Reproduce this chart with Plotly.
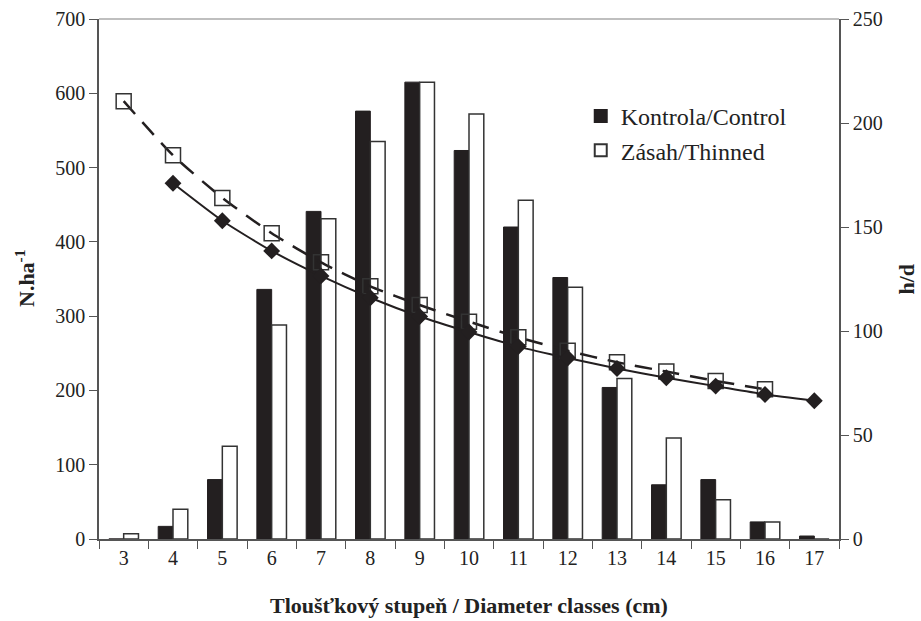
import plotly.graph_objects as go

classes = ["3", "4", "5", "6", "7", "8", "9", "10", "11", "12", "13", "14", "15", "16", "17"]
control_n = [0, 17, 80, 336, 441, 576, 615, 523, 420, 352, 204, 73, 80, 23, 4]
thinned_n = [7, 40, 125, 288, 431, 535, 615, 572, 456, 339, 216, 136, 53, 23, 0]

hd_classes_control = ["4", "5", "6", "7", "8", "9", "10", "11", "12", "13", "14", "15", "16", "17"]
hd_control = [171, 153, 138.5, 126.5, 116, 107, 99.5, 92.5, 87, 82, 77.5, 73.5, 69.5, 66.5]
hd_classes_thinned = ["3", "4", "5", "6", "7", "8", "9", "10", "11", "12", "13", "14", "15", "16"]
hd_thinned = [210.5, 184.5, 164, 147, 133, 121.5, 112.5, 104.5, 97, 90.5, 85, 80.5, 76, 72]

FONT = "Liberation Serif, Times New Roman, serif"
DARK = "#231f20"
AX = "#555555"

fig = go.Figure()
fig.add_trace(go.Bar(x=classes, y=control_n, name="Kontrola/Control", legendgroup="a",
                     marker=dict(color=DARK, line=dict(color=DARK, width=1)), yaxis="y"))
fig.add_trace(go.Bar(x=classes, y=thinned_n, name="Zásah/Thinned", legendgroup="b",
                     marker=dict(color="white", line=dict(color="#333333", width=1.5)), yaxis="y"))
fig.add_trace(go.Scatter(x=hd_classes_thinned, y=hd_thinned, yaxis="y2", mode="lines+markers",
                         line=dict(color=DARK, width=2.5, dash="17px,11px", shape="spline", smoothing=0.6),
                         marker=dict(symbol="square-open", size=15, color="#333333", line=dict(width=1.5)),
                         showlegend=False))
fig.add_trace(go.Scatter(x=hd_classes_control, y=hd_control, yaxis="y2", mode="lines+markers",
                         line=dict(color=DARK, width=2, shape="spline", smoothing=0.6),
                         marker=dict(symbol="diamond", size=13, color=DARK),
                         showlegend=False))

fig.update_layout(
    width=921, height=621,
    margin=dict(l=99, r=82, t=19, b=82, autoexpand=False),
    paper_bgcolor="white", plot_bgcolor="white",
    barmode="group", bargap=0.4, bargroupgap=0.0,
    font=dict(family=FONT, size=20, color="#222222"),
    xaxis=dict(type="category", range=[-0.5, 14.5], showline=True, linecolor=AX, linewidth=1.5,
               automargin=False, ticks="outside", ticklen=8, tickcolor=AX, tickson="boundaries",
               showgrid=False, zeroline=False),
    yaxis=dict(range=[0, 700], dtick=100, showline=True, linecolor=AX, linewidth=1.5, automargin=False,
               ticks="outside", ticklen=8, tickcolor=AX, showgrid=False, zeroline=False),
    yaxis2=dict(range=[0, 250], dtick=50, overlaying="y", side="right", showline=True, automargin=False,
                linecolor=AX, linewidth=1.5, ticks="outside", ticklen=8, tickcolor=AX,
                showgrid=False, zeroline=False),
    legend=dict(x=0.651, y=0.856, xanchor="left", yanchor="top", bgcolor="rgba(0,0,0,0)",
                font=dict(family=FONT, size=24), itemsizing="constant", tracegroupgap=0),
    showlegend=True,
)
fig.add_shape(type="line", xref="paper", yref="paper", x0=0, x1=1, y0=1, y1=1,
              line=dict(color="#aaaaaa", width=1.5))
fig.add_annotation(text="<b>Tloušťkový stupeň / Diameter classes (cm)</b>", xref="paper", yref="paper",
                   x=0.5, y=-0.127, yanchor="middle", showarrow=False, font=dict(family=FONT, size=22))
fig.add_annotation(text="<b>N.ha<sup>-1</sup></b>", xref="paper", yref="paper", textangle=-90,
                   x=-0.1, y=0.5, xanchor="center", showarrow=False, font=dict(family=FONT, size=22))
fig.add_annotation(text="<b>h/d</b>", xref="paper", yref="paper", textangle=-90,
                   x=1.09, y=0.5, xanchor="center", showarrow=False, font=dict(family=FONT, size=22))

fig.write_html("out.html", config={"displayModeBar": False},
               post_script="document.body.style.margin='0';document.body.style.overflow='hidden';")
